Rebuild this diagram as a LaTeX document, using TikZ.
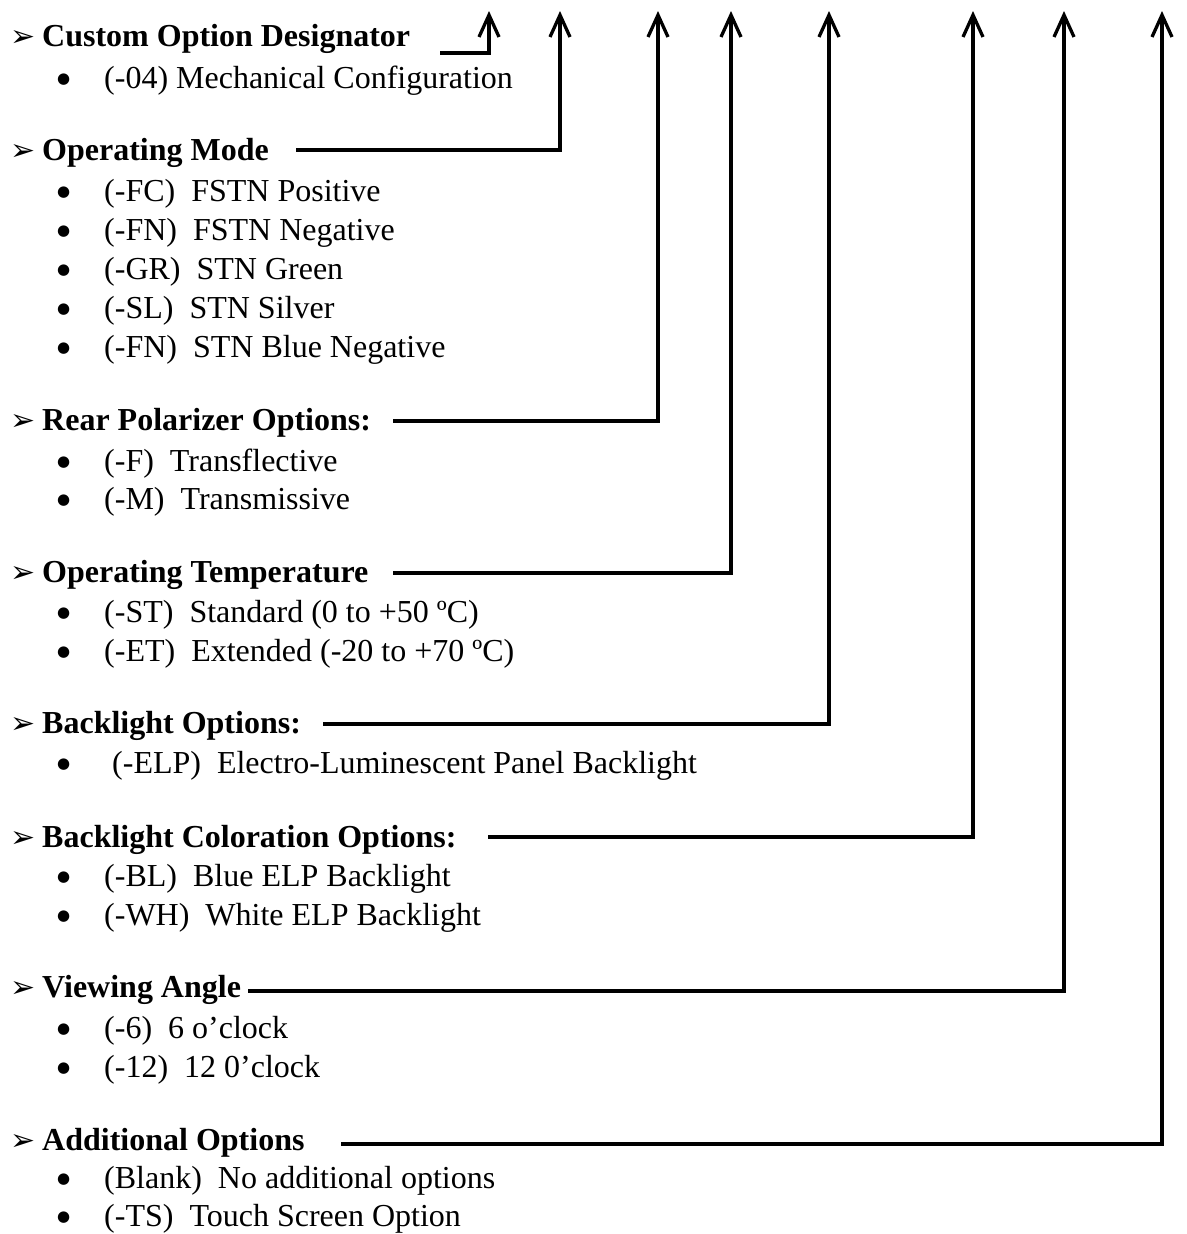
\documentclass[tikz,border=0pt]{standalone}
\usepackage{fontspec}
\setmainfont{Liberation Serif}
\newfontfamily\markfont{DejaVu Sans}
\usetikzlibrary{arrows.meta}

\newcommand{\hmark}{\makebox[32pt][l]{\markfont\fontsize{30}{30}\selectfont ➢}}
\newcommand{\bmark}{\makebox[47pt][l]{\raisebox{4.5pt}{\markfont\fontsize{15}{15}\selectfont ●}}}

\begin{document}
\begin{tikzpicture}[x=1pt,y=-1pt,
  hdr/.style={anchor=base west,inner sep=0,font=\bfseries\fontsize{32}{38}\selectfont},
  item/.style={anchor=base west,inner sep=0,font=\fontsize{32}{38}\selectfont},
  conn/.style={line width=3.3pt,-{Straight Barb[length=22pt,width=20pt]}}]
\useasboundingbox (0,0) rectangle (1186,1234);

% Nodes
\node[hdr] (h1) at (10,46) {\hmark Custom Option Designator};
\node[item] (b1) at (57,88) {\bmark(-04) Mechanical Configuration};

\node[hdr] (h2) at (10,160) {\hmark Operating Mode};
\node[item] (b2) at (57,201) {\bmark(-FC)~~FSTN Positive};
\node[item] (b3) at (57,240) {\bmark(-FN)~~FSTN Negative};
\node[item] (b4) at (57,279) {\bmark(-GR)~~STN Green};
\node[item] (b5) at (57,318) {\bmark(-SL)~~STN Silver};
\node[item] (b6) at (57,357) {\bmark(-FN)~~STN Blue Negative};

\node[hdr] (h3) at (10,430) {\hmark Rear Polarizer Options:};
\node[item] (b7) at (57,471) {\bmark(-F)~~Transflective};
\node[item] (b8) at (57,509) {\bmark(-M)~~Transmissive};

\node[hdr] (h4) at (10,582) {\hmark Operating Temperature};
\node[item] (b9) at (57,622) {\bmark(-ST)~~Standard (0 to +50 ºC)};
\node[item] (b10) at (57,661) {\bmark(-ET)~~Extended (-20 to +70 ºC)};

\node[hdr] (h5) at (10,733) {\hmark Backlight Options:};
\node[item] (b11) at (57,773) {\bmark\ (-ELP)~~Electro-Luminescent Panel Backlight};

\node[hdr] (h6) at (10,847) {\hmark Backlight Coloration Options:};
\node[item] (b12) at (57,886) {\bmark(-BL)~~Blue ELP Backlight};
\node[item] (b13) at (57,925) {\bmark(-WH)~~White ELP Backlight};

\node[hdr] (h7) at (10,997) {\hmark Viewing Angle};
\node[item] (b14) at (57,1038) {\bmark(-6)~~6 o’clock};
\node[item] (b15) at (57,1077) {\bmark(-12)~~12 0’clock};

\node[hdr] (h8) at (10,1150) {\hmark Additional Options};
\node[item] (b16) at (57,1188) {\bmark(Blank)~~No additional options};
\node[item] (b17) at (57,1226) {\bmark(-TS)~~Touch Screen Option};

% line starts and arrow tips
\coordinate (s1) at (440,53);   \coordinate (t1) at (489,11);
\coordinate (s2) at (296,150);  \coordinate (t2) at (560,11);
\coordinate (s3) at (393,421);  \coordinate (t3) at (658,11);
\coordinate (s4) at (393,573);  \coordinate (t4) at (731,11);
\coordinate (s5) at (323,724);  \coordinate (t5) at (829,11);
\coordinate (s6) at (488,837);  \coordinate (t6) at (973,11);
\coordinate (s7) at (248,991);  \coordinate (t7) at (1064,11);
\coordinate (s8) at (341,1144); \coordinate (t8) at (1162,11);

%arcs
\draw[conn] (s1) -| (t1);
\draw[conn] (s2) -| (t2);
\draw[conn] (s3) -| (t3);
\draw[conn] (s4) -| (t4);
\draw[conn] (s5) -| (t5);
\draw[conn] (s6) -| (t6);
\draw[conn] (s7) -| (t7);
\draw[conn] (s8) -| (t8);

\end{tikzpicture}
\end{document}
